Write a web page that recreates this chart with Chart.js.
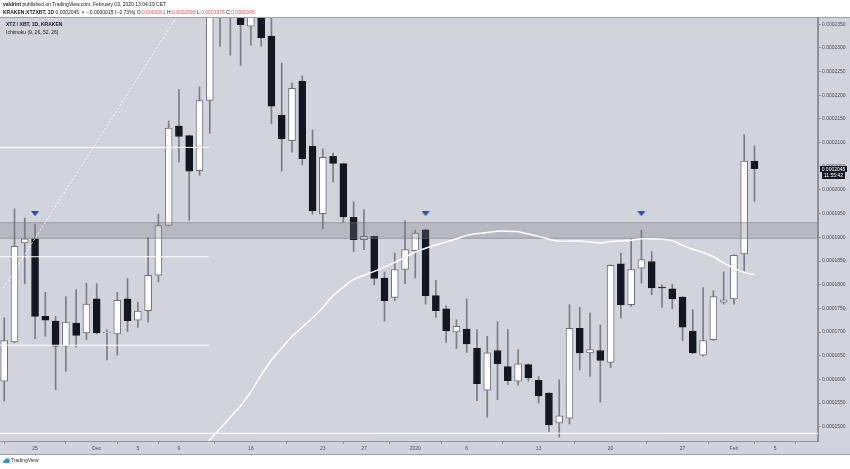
<!DOCTYPE html>
<html>
<head>
<meta charset="utf-8">
<script src="https://cdn.jsdelivr.net/npm/chart.js@4/dist/chart.umd.min.js"></script>
<style>
html,body{margin:0;padding:0;background:#ffffff;}
#wrap{position:relative;width:850px;height:469px;overflow:hidden;font-family:"Liberation Sans",Arial,sans-serif;color:#131722;}
#c{position:absolute;left:0;top:0;}
.txt{position:absolute;white-space:nowrap;font-size:5px;line-height:5px;}
.red{color:#ef5350;}
b{font-weight:bold;}
</style>
</head>
<body>
<div id="wrap">
  <canvas id="c" width="850" height="469"></canvas>
  <div class="txt" style="left:3px;top:2px;"><b>valdrint</b> published on TradingView.com, February 03, 2020 13:04:19 CET</div>
  <div class="txt" style="left:3px;top:10px;"><b>KRAKEN:XTZXBT, 1D</b> 0.0002045 <span class="red">▼</span> −0.0000015 (−0.73%) O:<span class="red">0.0002061</span> H:<span class="red">0.0002093</span> L:<span class="red">0.0001976</span> C:<span class="red">0.0002045</span></div>
  <div class="txt" style="left:6px;top:22px;"><b>XTZ / XBT, 1D, KRAKEN</b></div>
  <div class="txt" style="left:6px;top:30px;">Ichimoku (9, 26, 52, 26)</div>
  <div class="txt" style="left:3px;top:458px;color:#2a2e39;">
    <svg width="7" height="5" viewBox="0 0 14 10" style="vertical-align:middle;margin-right:1px;"><ellipse cx="4" cy="7" rx="4" ry="3" fill="#2196f3"/><ellipse cx="8.5" cy="5" rx="5" ry="4.5" fill="#2196f3"/><rect x="3" y="6" width="10" height="4" fill="#2196f3"/></svg>TradingView
  </div>
</div>
<script>
// ---- categories (one candle per day) ----
const dates = [
  'Nov 22','Nov 23','Nov 24','Nov 25','Nov 26','Nov 27','Nov 28','Nov 29','Nov 30',
  'Dec 1','Dec 2','Dec 3','Dec 4','Dec 5','Dec 6','Dec 7','Dec 8','Dec 9','Dec 10','Dec 11','Dec 12','Dec 13','Dec 14','Dec 15','Dec 16','Dec 17','Dec 18','Dec 19','Dec 20','Dec 21','Dec 22','Dec 23','Dec 24','Dec 25','Dec 26','Dec 27','Dec 28','Dec 29','Dec 30','Dec 31',
  'Jan 1','Jan 2','Jan 3','Jan 4','Jan 5','Jan 6','Jan 7','Jan 8','Jan 9','Jan 10','Jan 11','Jan 12','Jan 13','Jan 14','Jan 15','Jan 16','Jan 17','Jan 18','Jan 19','Jan 20','Jan 21','Jan 22','Jan 23','Jan 24','Jan 25','Jan 26','Jan 27','Jan 28','Jan 29','Jan 30','Jan 31',
  'Feb 1','Feb 2','Feb 3'
];

// ---- OHLC series (XTZ/XBT) ----
const open = [
  1596e-7,1679e-7,1888e-7,1897e-7,1733e-7,1723e-7,1670e-7,1719e-7,1698e-7,1770e-7,
  1698e-7,1696e-7,1770e-7,1725e-7,1745e-7,1820e-7,1925e-7,2135e-7,2115e-7,2041e-7,
  2189e-7,2420e-7,2390e-7,2410e-7,2346e-7,2380e-7,2325e-7,2158e-7,2104e-7,2230e-7,
  2092e-7,1950e-7,2071e-7,2056e-7,1942e-7,1895e-7,1902e-7,1814e-7,1773e-7,1832e-7,
  1872e-7,1916e-7,1777e-7,1749e-7,1700e-7,1706e-7,1666e-7,1577e-7,1661e-7,1627e-7,
  1596e-7,1631e-7,1598e-7,1571e-7,1508e-7,1518e-7,1708e-7,1656e-7,1661e-7,1636e-7,
  1844e-7,1758e-7,1835e-7,1849e-7,1795e-7,1791e-7,1774e-7,1702e-7,1651e-7,1684e-7,
  1763e-7,1770e-7,1865e-7,2061e-7
];
const high = [
  1730e-7,1960e-7,1941e-7,1928e-7,1784e-7,1733e-7,1775e-7,1789e-7,1803e-7,1802e-7,
  1704e-7,1784e-7,1813e-7,1763e-7,1900e-7,1949e-7,2146e-7,2212e-7,2116e-7,2218e-7,
  2470e-7,2450e-7,2440e-7,2430e-7,2400e-7,2395e-7,2380e-7,2268e-7,2226e-7,2241e-7,
  2127e-7,2087e-7,2078e-7,2056e-7,1975e-7,1958e-7,1903e-7,1827e-7,1867e-7,1935e-7,
  1915e-7,1917e-7,1809e-7,1756e-7,1726e-7,1770e-7,1705e-7,1691e-7,1722e-7,1705e-7,
  1663e-7,1633e-7,1606e-7,1572e-7,1599e-7,1758e-7,1752e-7,1740e-7,1715e-7,1842e-7,
  1867e-7,1897e-7,1915e-7,1870e-7,1800e-7,1801e-7,1775e-7,1747e-7,1794e-7,1787e-7,
  1827e-7,1863e-7,2117e-7,2093e-7
];
const low = [
  1554e-7,1677e-7,1802e-7,1686e-7,1691e-7,1578e-7,1617e-7,1668e-7,1684e-7,1696e-7,
  1641e-7,1651e-7,1701e-7,1710e-7,1721e-7,1806e-7,1924e-7,2059e-7,1936e-7,2031e-7,
  2120e-7,2304e-7,2285e-7,2263e-7,2306e-7,2304e-7,2140e-7,2040e-7,2080e-7,2053e-7,
  1949e-7,1918e-7,2017e-7,1932e-7,1870e-7,1874e-7,1800e-7,1723e-7,1766e-7,1802e-7,
  1814e-7,1759e-7,1731e-7,1678e-7,1665e-7,1657e-7,1555e-7,1520e-7,1557e-7,1589e-7,
  1587e-7,1596e-7,1550e-7,1490e-7,1478e-7,1506e-7,1620e-7,1606e-7,1552e-7,1625e-7,
  1730e-7,1754e-7,1803e-7,1779e-7,1752e-7,1749e-7,1682e-7,1655e-7,1649e-7,1682e-7,
  1759e-7,1759e-7,1829e-7,1976e-7
];
const close = [
  1682e-7,1881e-7,1897e-7,1733e-7,1725e-7,1670e-7,1721e-7,1693e-7,1759e-7,1698e-7,
  1700e-7,1767e-7,1724e-7,1744e-7,1820e-7,1925e-7,2131e-7,2113e-7,2040e-7,2189e-7,
  2420e-7,2390e-7,2410e-7,2349e-7,2380e-7,2321e-7,2177e-7,2108e-7,2215e-7,2066e-7,
  1956e-7,2069e-7,2056e-7,1943e-7,1895e-7,1902e-7,1813e-7,1766e-7,1832e-7,1874e-7,
  1909e-7,1777e-7,1745e-7,1703e-7,1712e-7,1675e-7,1591e-7,1656e-7,1633e-7,1597e-7,
  1633e-7,1603e-7,1565e-7,1504e-7,1523e-7,1708e-7,1656e-7,1663e-7,1640e-7,1841e-7,
  1758e-7,1832e-7,1853e-7,1793e-7,1793e-7,1770e-7,1710e-7,1656e-7,1682e-7,1775e-7,
  1768e-7,1862e-7,2061e-7,2045e-7
];

// ---- Ichimoku line (starts at day index 19) ----
const ichimokuStart = 19;
const ichimoku = [
  1448e-7,1472e-7,1496e-7,1520e-7,1544e-7,1574e-7,1609e-7,1641e-7,1666e-7,1691e-7,
  1710e-7,1730e-7,1752e-7,1777e-7,1795e-7,1811e-7,1820e-7,1828e-7,1837e-7,1847e-7,
  1858e-7,1869e-7,1877e-7,1884e-7,1890e-7,1897e-7,1904e-7,1908e-7,1910e-7,1913e-7,
  1913e-7,1912e-7,1907e-7,1902e-7,1896e-7,1892e-7,1892e-7,1892e-7,1890e-7,1888e-7,
  1891e-7,1893e-7,1894e-7,1897e-7,1897e-7,1896e-7,1893e-7,1883e-7,1875e-7,1868e-7,
  1859e-7,1846e-7,1835e-7,1826e-7,1821e-7
];

// ---- drawings ----
const zoneLow = 1897e-7, zoneHigh = 1932e-7;
const shortLevels = [2090e-7, 1859e-7, 1672e-7];
const shortLevelsEnd = 19.9;
const fullLevels = [1486e-7];
const markerDays = [3, 41, 62];
const markerPrice = [1950e-7, 1950e-7, 1950e-7];
const trendX = [-0.08, 16.79];
const trendY = [1793e-7, 2366e-7];

// ---- axes ----
const xMin = -0.41, xMax = 79.18;
const yMin = 1469.8e-7, yMax = 2363.3e-7;
const xTickDays = [3, 9, 13, 17, 24, 31, 35, 40, 45, 52, 59, 66, 71, 75];
const xTickLabels = ['25','Dec','5','9','16','23','27','2020','6','13','20','27','Feb','5'];
const yTicks = [1500e-7,1550e-7,1600e-7,1650e-7,1700e-7,1750e-7,1800e-7,1850e-7,1900e-7,1950e-7,2000e-7,2050e-7,2100e-7,2150e-7,2200e-7,2250e-7,2300e-7,2350e-7];
const countdown = '11:55:42';

// colours
const BG = '#d1d4dc';
const DARK = '#131722';
const WICK = '#7a7d87';
const AXIS = '#8f929b';

const up = dates.map((_, i) => close[i] >= open[i]);

// marker image (flat down-pointing triangle)
const mk = document.createElement('canvas');
mk.width = 8; mk.height = 5;
(function(){ const g = mk.getContext('2d'); g.fillStyle = '#2c50a4'; g.beginPath(); g.moveTo(0,0); g.lineTo(8,0); g.lineTo(4,5); g.closePath(); g.fill(); })();

const bgPlugin = {
  id: 'bg',
  beforeDraw(chart) {
    const c = chart.ctx;
    c.save();
    c.fillStyle = BG;
    c.fillRect(0, 17, 850, 437);
    c.fillStyle = '#9da0a8';
    c.fillRect(0, 17, 850, 1);
    c.fillRect(0, 454, 850, 1);
    c.restore();
  },
  afterDatasetDraw(chart, args) {
    if (args.index !== 1) return;
    const c = chart.ctx, a = chart.chartArea, y = chart.scales.y;
    const t = y.getPixelForValue(zoneHigh), b = y.getPixelForValue(zoneLow);
    c.save();
    c.beginPath(); c.rect(a.left, a.top, a.right - a.left, a.bottom - a.top); c.clip();
    c.fillStyle = 'rgba(118,121,132,0.30)';
    c.fillRect(a.left, t, a.right - a.left, b - t);
    c.fillStyle = 'rgba(118,121,132,0.45)';
    c.fillRect(a.left, t, a.right - a.left, 1);
    c.fillRect(a.left, b - 1, a.right - a.left, 1);
    c.restore();
  },
  afterDraw(chart) {
    const c = chart.ctx, y = chart.scales.y, a = chart.chartArea;
    const last = close[close.length - 1];
    const py = Math.round(y.getPixelForValue(last));
    c.save();
    c.fillStyle = DARK;
    c.fillRect(a.right + 2, py - 3, 27, 6);
    c.fillRect(a.right + 4, py + 3, 23, 7);
    c.fillStyle = '#ffffff';
    c.font = '5px "Liberation Sans", Arial, sans-serif';
    c.textAlign = 'center';
    c.textBaseline = 'middle';
    c.fillText(last.toFixed(7), a.right + 15.5, py + 0.3);
    c.fillText(countdown, a.right + 15.5, py + 6.8);
    c.restore();
  }
};

const hLineSets = shortLevels.map(v => ({
  type: 'line', order: 3,
  data: [{x: xMin - 1, y: v}, {x: shortLevelsEnd, y: v}],
  borderColor: '#ffffff', borderWidth: 1, pointRadius: 0, clip: 0
})).concat(fullLevels.map(v => ({
  type: 'line', order: 3,
  data: [{x: xMin - 1, y: v}, {x: xMax + 1, y: v}],
  borderColor: '#ffffff', borderWidth: 1, pointRadius: 0, clip: 0
})));

new Chart(document.getElementById('c'), {
  type: 'bar',
  data: {
    datasets: [
      { // wicks
        type: 'bar', order: 5, grouped: false,
        data: dates.map((_, i) => ({x: i, y: [low[i], high[i]]})),
        backgroundColor: WICK, barThickness: 1, borderWidth: 0, clip: 0
      },
      { // bodies
        type: 'bar', order: 4, grouped: false,
        data: dates.map((_, i) => ({x: i, y: [open[i], close[i]]})),
        backgroundColor: up.map(u => u ? '#ffffff' : DARK),
        borderColor: up.map(u => u ? '#6b6e78' : DARK),
        borderWidth: 1, borderSkipped: false, barThickness: 7, minBarLength: 1, clip: 0
      },
      ...hLineSets,
      { // trend line
        type: 'line', order: 2,
        data: trendX.map((x, i) => ({x, y: trendY[i]})),
        borderColor: 'rgba(255,255,255,0.9)', borderWidth: 1, borderDash: [2, 2],
        pointRadius: 0, clip: 0
      },
      { // ichimoku
        type: 'line', order: 1,
        data: ichimoku.map((v, i) => ({x: ichimokuStart + i, y: v})),
        borderColor: '#ffffff', borderWidth: 1.5, pointRadius: 0, tension: 0.2, clip: 0
      },
      { // markers
        type: 'line', order: 0, showLine: false,
        data: markerDays.map((d, i) => ({x: d, y: markerPrice[i]})),
        pointStyle: mk, pointRadius: 4, clip: 0
      }
    ]
  },
  options: {
    responsive: false,
    animation: false,
    devicePixelRatio: 1,
    layout: { autoPadding: false, padding: { top: 18, bottom: 15, left: 0, right: 0 } },
    plugins: { legend: { display: false }, tooltip: { enabled: false } },
    events: [],
    scales: {
      x: {
        type: 'linear', min: xMin, max: xMax, offset: false,
        afterBuildTicks: s => { s.ticks = xTickDays.map(v => ({value: v})); },
        afterFit: s => { s.height = 13; s.paddingLeft = 0; s.paddingRight = 0; },
        grid: { drawOnChartArea: false, drawTicks: true, tickLength: 3, color: AXIS },
        border: { display: true, color: AXIS, width: 1 },
        ticks: {
          autoSkip: false, maxRotation: 0, padding: 1.5, color: '#4a4d55',
          font: { size: 5, family: '"Liberation Sans", Arial, sans-serif' },
          callback: v => xTickLabels[xTickDays.indexOf(v)]
        }
      },
      y: {
        type: 'linear', position: 'right', min: yMin, max: yMax,
        afterBuildTicks: s => { s.ticks = yTicks.map(v => ({value: v})); },
        afterFit: s => { s.width = 32; s.paddingTop = 0; s.paddingBottom = 0; },
        grid: { drawOnChartArea: false, drawTicks: true, tickLength: 3, color: AXIS },
        border: { display: true, color: AXIS, width: 2 },
        ticks: {
          padding: 1, color: '#4a4d55',
          font: { size: 5, family: '"Liberation Sans", Arial, sans-serif' },
          callback: v => v.toFixed(7)
        }
      }
    }
  },
  plugins: [bgPlugin]
});
</script>
</body>
</html>
